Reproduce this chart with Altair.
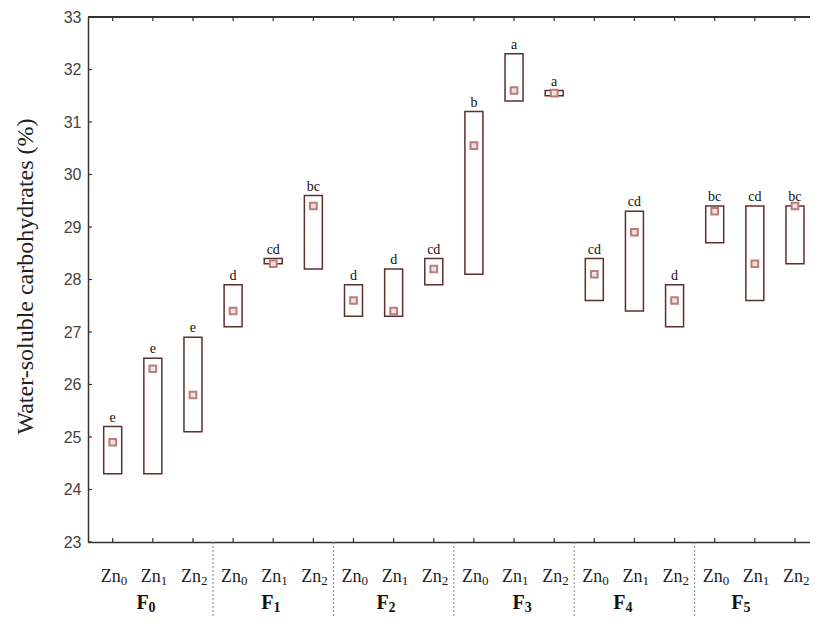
import altair as alt
import pandas as pd

# ---- data ----
fert = ["0", "1", "2", "3", "4", "5"]          # F subscripts
f_center = [0.82, 3.93, 6.80, 10.19, 12.70, 15.64]  # where the F labels sit
zn_sub = ["0", "1", "2"]                         # Zn subscripts
low = [24.3, 24.3, 25.1, 27.1, 28.3, 28.2, 27.3, 27.3, 27.9,
       28.1, 31.4, 31.5, 27.6, 27.4, 27.1, 28.7, 27.6, 28.3]
high = [25.2, 26.5, 26.9, 27.9, 28.4, 29.6, 27.9, 28.2, 28.4,
        31.2, 32.3, 31.6, 28.4, 29.3, 27.9, 29.4, 29.4, 29.4]
mean = [24.9, 26.3, 25.8, 27.4, 28.3, 29.4, 27.6, 27.4, 28.2,
        30.55, 31.6, 31.55, 28.1, 28.9, 27.6, 29.3, 28.3, 29.4]
letters = ["e", "e", "e", "d", "cd", "bc", "d", "d", "cd",
           "b", "a", "a", "cd", "cd", "d", "bc", "cd", "bc"]
y_ticks = [23, 24, 25, 26, 27, 28, 29, 30, 31, 32, 33]

W, H = 722, 525
SERIF = "Liberation Serif"
BOX = "#5e2f2f"
AX = "#333333"
TITLE = "Water-soluble carbohydrates (%)"

n = len(low)
df = pd.DataFrame({
    "pos": list(range(n)),
    "low": low, "high": high, "mean": mean, "letter": letters,
    "zn": ["Zn"] * n,
    "sub": [zn_sub[i % 3] for i in range(n)],
})
fdf = pd.DataFrame({"pos": f_center, "F": ["F"] * len(fert), "sub": fert})
sep = pd.DataFrame({"pos": [3 * i + 2.5 for i in range(len(fert) - 1)]})
yt = pd.DataFrame({"v": y_ticks})

xscale = alt.Scale(domain=[-0.491, 17.25], nice=False, zero=False)
yscale = alt.Scale(domain=[23, 33], nice=False, zero=False)

xaxis = alt.Axis(labels=False, ticks=False, grid=False, title=None,
                 domainColor=AX, domainWidth=1.5)
yaxis = alt.Axis(values=y_ticks, ticks=False, grid=False,
                 domainColor=AX, domainWidth=1.5,
                 labelFont="Liberation Sans", labelFontSize=16,
                 labelColor="#444444", labelPadding=7,
                 title=TITLE,
                 titleFont=SERIF, titleFontSize=24, titleFontWeight="normal",
                 titleColor="#222222", titleAngle=270,
                 titleX=-63, titleY=259, titleAlign="center",
                 titleBaseline="middle")


def X():
    return alt.X("pos:Q", scale=xscale, axis=xaxis, title=None)


def Y(field):
    return alt.Y(field, scale=yscale, axis=yaxis, title=TITLE)


boxes = alt.Chart(df).mark_bar(size=18, fill="white", stroke=BOX, strokeWidth=1.5).encode(
    x=X(), y=Y("low:Q"), y2="high:Q")

means = alt.Chart(df).mark_square(size=45, fill="#f2dede", stroke="#b87e7e",
                                  strokeWidth=2, opacity=1).encode(
    x=X(), y=Y("mean:Q"))

lets = alt.Chart(df).mark_text(font=SERIF, fontSize=14, baseline="bottom", dy=-2,
                               color="#111111").encode(
    x=X(), y=Y("high:Q"), text="letter:N")

zn_t = alt.Chart(df).mark_text(font=SERIF, fontSize=18, align="right", baseline="alphabetic",
                               dx=8, color="#222222").encode(
    x=X(), y=alt.value(H + 40), text="zn:N")
zn_s = alt.Chart(df).mark_text(font=SERIF, fontSize=13, align="left", baseline="alphabetic",
                               dx=8, color="#222222").encode(
    x=X(), y=alt.value(H + 43), text="sub:N")

f_t = alt.Chart(fdf).mark_text(font=SERIF, fontSize=20, fontWeight="bold", align="right",
                               baseline="alphabetic", dx=3, color="#111111").encode(
    x=X(), y=alt.value(H + 67), text="F:N")
f_s = alt.Chart(fdf).mark_text(font=SERIF, fontSize=14, fontWeight="bold", align="left",
                               baseline="alphabetic", dx=3, color="#111111").encode(
    x=X(), y=alt.value(H + 70), text="sub:N")

seps = alt.Chart(sep).mark_rule(color="#888888", strokeDash=[2, 2], strokeWidth=1).encode(
    x=X(), y=alt.value(H), y2=alt.value(H + 81))

tick_b = alt.Chart(df).mark_rule(color=AX, strokeWidth=1.2).encode(
    x=X(), y=alt.value(H), y2=alt.value(H - 4))
tick_t = alt.Chart(df).mark_rule(color=AX, strokeWidth=1.2).encode(
    x=X(), y=alt.value(0), y2=alt.value(4))
tick_l = alt.Chart(yt).mark_rule(color=AX, strokeWidth=1.2).encode(
    y=Y("v:Q"), x=alt.value(0), x2=alt.value(4))
top_line = alt.Chart(yt).mark_rule(color=AX, strokeWidth=1.5).encode(
    x=alt.value(0), x2=alt.value(W), y=alt.value(0))

chart = alt.layer(
    boxes, means, lets, zn_t, zn_s, f_t, f_s, seps, tick_b, tick_t, tick_l, top_line
).properties(
    width=W, height=H,
    autosize=alt.AutoSizeParams(type="none"),
    padding={"left": 80, "top": 9, "right": 0, "bottom": 74},
    background="white",
).configure_view(stroke=None).configure_axis(
    titleFont=SERIF, labelFont="Liberation Sans"
)

chart.save("out.html", embed_options={"renderer": "svg", "actions": False})
